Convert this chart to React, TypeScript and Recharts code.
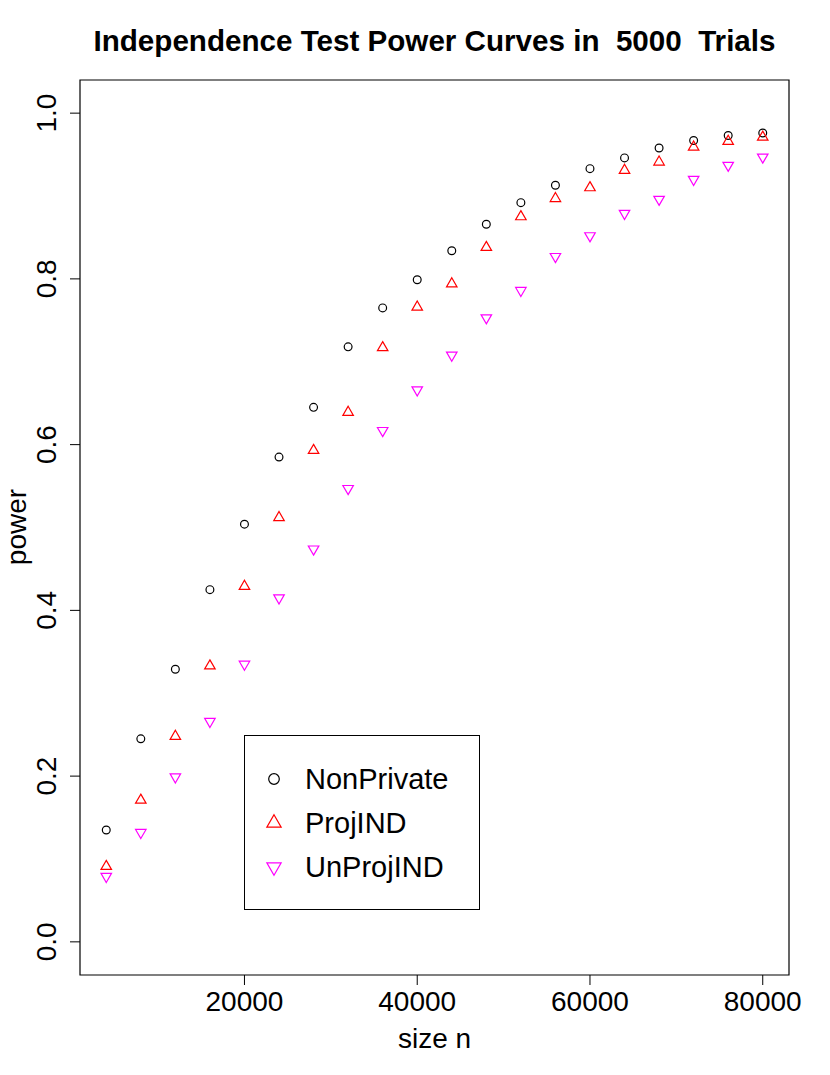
import {
  Customized,
  Legend,
  ReferenceArea,
  Scatter,
  ScatterChart,
  XAxis,
  YAxis,
} from "recharts";

// sample sizes and power per method
const sizes = [
  4000, 8000, 12000, 16000, 20000, 24000, 28000, 32000, 36000, 40000,
  44000, 48000, 52000, 56000, 60000, 64000, 68000, 72000, 76000, 80000,
];
const nonPrivate = [
  0.135, 0.245, 0.329, 0.425, 0.504, 0.585, 0.645, 0.718, 0.765, 0.799,
  0.834, 0.866, 0.892, 0.913, 0.933, 0.946, 0.958, 0.967, 0.973, 0.976,
];
const projIND = [
  0.091, 0.171, 0.248, 0.333, 0.429, 0.512, 0.593, 0.639, 0.717, 0.766,
  0.794, 0.838, 0.875, 0.897, 0.910, 0.931, 0.941, 0.959, 0.966, 0.971,
];
const unProjIND = [
  0.079, 0.132, 0.199, 0.266, 0.335, 0.415, 0.474, 0.547, 0.617, 0.666,
  0.708, 0.753, 0.786, 0.827, 0.852, 0.879, 0.896, 0.920, 0.937, 0.947,
];

const xTicks = [20000, 40000, 60000, 80000];
const yTicks = [0, 0.2, 0.4, 0.6, 0.8, 1];
const yTickLabels = ["0.0", "0.2", "0.4", "0.6", "0.8", "1.0"];

const FONT = '"Liberation Sans", Arial, Helvetica, sans-serif';
const X_DOMAIN = [960, 83040];
const Y_DOMAIN = [-0.04, 1.04];

type Kind = "circle" | "up" | "down";

const series: { name: string; values: number[]; color: string; kind: Kind }[] = [
  { name: "NonPrivate", values: nonPrivate, color: "#000000", kind: "circle" },
  { name: "ProjIND", values: projIND, color: "#FF0000", kind: "up" },
  { name: "UnProjIND", values: unProjIND, color: "#FF00FF", kind: "down" },
];

// R style pch 1 / 2 / 6
function Marker({ cx, cy, kind, color, size }: any) {
  if (kind === "circle") {
    return <circle cx={cx} cy={cy} r={size} fill="none" stroke={color} strokeWidth={1.2} />;
  }
  const r = 1.555 * size;
  const h = 1.3468 * size;
  const yc = 0.7776 * size;
  const s = kind === "up" ? 1 : -1;
  const pts = `${cx},${cy - s * r} ${cx + h},${cy + s * yc} ${cx - h},${cy + s * yc}`;
  return <polygon points={pts} fill="none" stroke={color} strokeWidth={1.2} />;
}

function XTick({ x, payload }: any) {
  return (
    <text x={x} y={1011} textAnchor="middle" fontSize={28} fontFamily={FONT} fill="#000">
      {payload.value}
    </text>
  );
}

function YTick({ y, payload }: any) {
  const label = yTickLabels[yTicks.indexOf(payload.value)];
  return (
    <text
      x={56}
      y={y}
      transform={`rotate(-90, 56, ${y})`}
      textAnchor="middle"
      fontSize={28}
      fontFamily={FONT}
      fill="#000"
    >
      {label}
    </text>
  );
}

function LegendBox({ payload }: any) {
  const rows = (payload || []).map((p: any) => series.find((s) => s.name === p.value)).filter(Boolean);
  return (
    <svg width={236} height={175} style={{ display: "block" }}>
      <rect x={0.5} y={0.5} width={235} height={174} fill="#fff" stroke="#000" strokeWidth={1} />
      {rows.map((s: any, i: number) => (
        <g key={s.name}>
          <Marker cx={30} cy={44 + i * 44} kind={s.kind} color={s.color} size={5.3} />
          <text x={61} y={54 + i * 44} fontSize={29} fontFamily={FONT} fill="#000">
            {s.name}
          </text>
        </g>
      ))}
    </svg>
  );
}

function Titles() {
  return (
    <g fontFamily={FONT} fill="#000">
      <text x={434.5} y={51} textAnchor="middle" fontSize={29.6} fontWeight="bold" style={{ whiteSpace: "pre" }}>
        {"Independence Test Power Curves in  5000  Trials"}
      </text>
      <text x={434.5} y={1048} textAnchor="middle" fontSize={28}>
        size n
      </text>
      <text x={26} y={527} transform="rotate(-90, 26, 527)" textAnchor="middle" fontSize={28}>
        power
      </text>
    </g>
  );
}

export default function App() {
  return (
    <div style={{ position: "absolute", left: 0, top: 0, background: "#fff" }}>
      <ScatterChart width={830} height={1075} margin={{ top: 80, right: 41, bottom: 0, left: 0 }}>
        <XAxis
          type="number"
          dataKey="n"
          domain={X_DOMAIN}
          ticks={xTicks}
          tick={<XTick />}
          tickSize={10}
          tickLine={{ stroke: "#000" }}
          axisLine={false}
          height={100}
          allowDataOverflow
        />
        <YAxis
          type="number"
          dataKey="power"
          domain={Y_DOMAIN}
          ticks={yTicks}
          tick={<YTick />}
          tickSize={10}
          tickLine={{ stroke: "#000" }}
          axisLine={false}
          width={80}
          allowDataOverflow
        />
        <ReferenceArea
          x1={X_DOMAIN[0]}
          x2={X_DOMAIN[1]}
          y1={Y_DOMAIN[0]}
          y2={Y_DOMAIN[1]}
          fill="none"
          stroke="#000"
          strokeWidth={1.2}
          fillOpacity={0}
        />
        {series.map((s) => (
          <Scatter
            key={s.name}
            name={s.name}
            data={sizes.map((n, i) => ({ n, power: s.values[i] }))}
            fill={s.color}
            isAnimationActive={false}
            shape={(props: any) => <Marker cx={props.cx} cy={props.cy} kind={s.kind} color={s.color} size={3.9} />}
          />
        ))}
        <Legend
          layout="horizontal"
          verticalAlign="middle"
          align="center"
          content={<LegendBox />}
          wrapperStyle={{ position: "absolute", left: 244, top: 735, width: 236, height: 175 }}
        />
        <Customized component={<Titles />} />
      </ScatterChart>
    </div>
  );
}
